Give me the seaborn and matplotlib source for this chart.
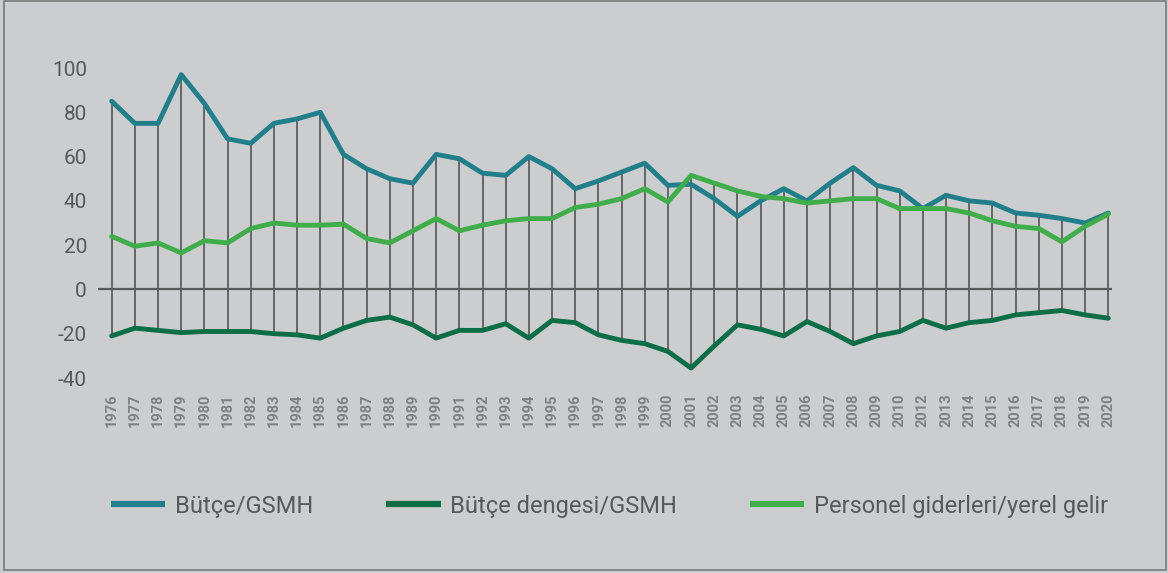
import pandas as pd
import numpy as np
import matplotlib
matplotlib.use("Agg")
import matplotlib.pyplot as plt
import seaborn as sns
from matplotlib.patches import Rectangle

# veriler
years = [str(y) for y in range(1976, 2011)] + [str(y) for y in range(2012, 2021)]

butce = [85, 75, 75, 97, 84, 68, 66, 75, 77, 80, 61, 54.5, 50, 48, 61,
         59, 52.5, 51.5, 60, 54.5, 45.5, 49, 53, 57, 47, 47.5, 41, 33, 40,
         45.5, 40, 48, 55, 47, 44.5, 36.5, 42.5, 40, 39, 34.5, 33.5, 32, 30, 34.5]

denge = [-21, -17.5, -18.5, -19.5, -19, -19, -19, -20, -20.5, -22, -17.5, -14, -12.5, -16, -22,
         -18.5, -18.5, -15.5, -22, -14, -15, -20.5, -23, -24.5, -28, -35.5, -25.5, -16, -18,
         -21, -14.5, -19, -24.5, -21, -19, -14, -17.5, -15, -14, -11.5, -10.5, -9.5, -11.5, -13]

personel = [24, 19.5, 21, 16.5, 22, 21, 27.5, 30, 29, 29, 29.5, 23, 21, 26.5, 32,
            26.5, 29, 31, 32, 32, 37, 38.5, 41, 45.5, 39.5, 51.5, 48, 44.5, 42,
            41, 39, 40, 41, 41, 36.5, 36.5, 36.5, 34.5, 31, 28.5, 27.5, 21.5, 28.5, 34]

series_names = ["Bütçe/GSMH", "Bütçe dengesi/GSMH", "Personel giderleri/yerel gelir"]
colors = ["#217F8B", "#0B6E47", "#3FAE4A"]
yticks = [-40, -20, 0, 20, 40, 60, 80, 100]

bg = "#CCCDCF"

sns.set_style("white")
plt.rcParams['font.family'] = ['Roboto', 'DejaVu Sans']
plt.rcParams['axes.unicode_minus'] = False

df = pd.DataFrame({
    "pos": np.tile(np.arange(len(years)), 3),
    "deger": butce + denge + personel,
    "seri": np.repeat(series_names, len(years)),
})

fig = plt.figure(figsize=(11.68, 5.73), dpi=100, facecolor=bg)
W, H = 1168, 573
ax = fig.add_axes([98 / W, 1 - 378 / H, (1112 - 98) / W, 310 / H])
ax.set_facecolor(bg)

# high-low çizgileri
wide = np.array([butce, denge, personel])
ax.vlines(np.arange(len(years)), wide.min(axis=0), wide.max(axis=0),
          color="#5E5E5E", linewidth=1.3, zorder=1)
ax.axhline(0, color="#5A5A5A", linewidth=1.6, zorder=1)

sns.lineplot(data=df, x="pos", y="deger", hue="seri", hue_order=series_names,
             palette=colors, linewidth=3.5, ax=ax, zorder=3, legend=False)

ax.set_xlim(-0.59, 43.16)
ax.set_ylim(-40, 100)
ax.set_yticks(yticks)
ax.set_yticklabels([str(v) for v in yticks], fontsize=15, color="#595959")
ax.set_xticks(np.arange(len(years)))
ax.set_xticklabels(years, rotation=90, fontsize=10.5, fontweight="bold", color="#808080")
ax.tick_params(axis="y", length=0, pad=8)
ax.tick_params(axis="x", length=0, pad=11)
ax.set_xlabel("")
ax.set_ylabel("")
for s in ax.spines.values():
    s.set_visible(False)

handles = [plt.Line2D([], [], color=c, linewidth=4.5, solid_capstyle="butt") for c in colors]
leg = fig.legend(handles, series_names, loc="center", bbox_to_anchor=(609.5 / W, 1 - 506 / H),
                 ncol=3, frameon=False, fontsize=17, handlelength=2.3,
                 handletextpad=0.4, columnspacing=3.1, labelcolor="#595959")

fig.patches.append(Rectangle((4 / W, 3 / H), (1166 - 4) / W, (572 - 3) / H,
                             transform=fig.transFigure, fill=False,
                             edgecolor="#7A7A7A", linewidth=1.2))

fig.savefig("out.png", dpi=100, facecolor=bg)
